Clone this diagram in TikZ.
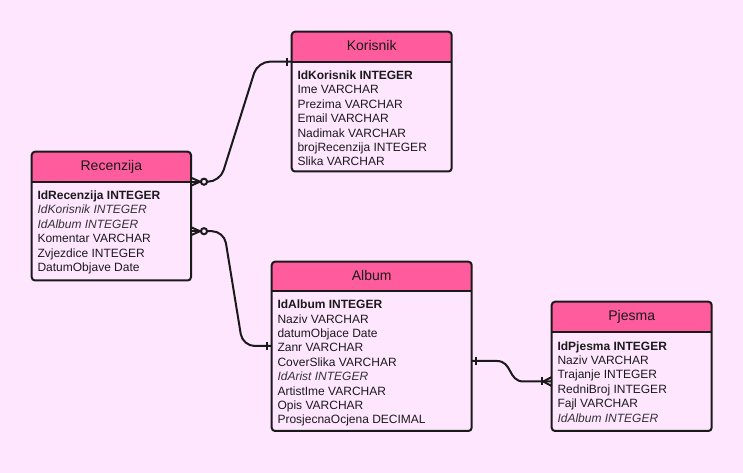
\documentclass[tikz,border=0pt]{standalone}
\usepackage{fontspec}
\setmainfont{Liberation Sans}
\usetikzlibrary{calc}
\definecolor{bgpink}{HTML}{FFE6FF}
\definecolor{hdrpink}{HTML}{FF5C9E}
\definecolor{ink}{HTML}{1A1A1A}
\definecolor{fkgray}{HTML}{333333}
\tikzset{
  tblborder/.style={draw=ink, line width=1.5pt, rounded corners=2.5pt},
  titletext/.style={anchor=base, inner sep=0pt, text=ink, font=\fontsize{10.5}{12}\selectfont},
  rowtext/.style={anchor=north west, inner sep=0pt, align=left, text=ink, font=\fontsize{9}{10.8}\selectfont},
  conn/.style={draw=ink, line width=1.5pt},
}
\newcommand\fkrow[1]{{\color{fkgray}\itshape #1}}
\newcommand\ertable[8]{%
  \coordinate (#1-nw) at (#2,#3);
  \coordinate (#1-se) at (#4,#5);
  \coordinate (#1-hw) at (#2,#6);
  \coordinate (#1-he) at (#4,#6);
  \fill[hdrpink] (#1-hw) {[rounded corners=2.5pt] -- (#2,#3) -- (#4,#3)} -- (#1-he) -- cycle;
  \draw[ink, line width=1.5pt] (#1-hw) -- (#1-he);
  \draw[tblborder] (#1-nw) rectangle (#1-se);
  \node[titletext] (#1-title) at ({(#2+#4)/2},{#3+19}) {#7};
  \node[rowtext] (#1-rows) at ({#2+5.6},{#6+8.8}) {#8};
}
\begin{document}
\begin{tikzpicture}[x=0.75pt,y=-0.75pt]
\fill[bgpink] (0,0) rectangle (743,473);
\useasboundingbox (0,0) rectangle (743,473);

\ertable{kor}{291.7}{31.7}{451.7}{171.5}{61.7}{Korisnik}{%
\textbf{IdKorisnik INTEGER}\\Ime VARCHAR\\Prezima VARCHAR\\Email VARCHAR\\Nadimak VARCHAR\\brojRecenzija INTEGER\\Slika VARCHAR}
\ertable{rec}{31.7}{151.7}{191}{280.5}{181.7}{Recenzija}{%
\textbf{IdRecenzija INTEGER}\\\fkrow{IdKorisnik INTEGER}\\\fkrow{IdAlbum INTEGER}\\Komentar VARCHAR\\Zvjezdice INTEGER\\DatumObjave Date}
\ertable{alb}{271.7}{261.7}{471.7}{431}{291}{Album}{%
\textbf{IdAlbum INTEGER}\\Naziv VARCHAR\\datumObjace Date\\Zanr VARCHAR\\CoverSlika VARCHAR\\\fkrow{IdArist INTEGER}\\ArtistIme VARCHAR\\Opis VARCHAR\\ProsjecnaOcjena DECIMAL}
\ertable{pje}{551.7}{301.7}{711.7}{431}{332.3}{Pjesma}{%
\textbf{IdPjesma INTEGER}\\Naziv VARCHAR\\Trajanje INTEGER\\RedniBroj INTEGER\\Fajl VARCHAR\\\fkrow{IdAlbum INTEGER}}

% Recenzija -> Korisnik (many-optional to one)
\coordinate (c1s) at (rec-he);
\draw[conn] ($(c1s)+(0,-4)$) -- ($(c1s)+(9,0)$) -- ($(c1s)+(0,4)$);
\draw[conn] (c1s) -- ($(c1s)+(10,0)$);
\draw[conn] ($(c1s)+(13,0)$) circle[radius=2.3pt];
\draw[conn, rounded corners=9pt] ($(c1s)+(16,0)$) -- ($(c1s)+(29,0)$) -- ($(kor-hw)+(-34,0)$) -- (kor-hw);
\draw[conn] ($(kor-hw)+(-5,-4)$) -- ($(kor-hw)+(-5,4)$);

% Recenzija -> Album (many-optional to one)
\coordinate (c2s) at ($(rec-he)+(0,49.5)$);
\coordinate (c2e) at ($(alb-hw)+(0,55)$);
\draw[conn] ($(c2s)+(0,-4)$) -- ($(c2s)+(9,0)$) -- ($(c2s)+(0,4)$);
\draw[conn] (c2s) -- ($(c2s)+(10,0)$);
\draw[conn] ($(c2s)+(13,0)$) circle[radius=2.3pt];
\draw[conn, rounded corners=9pt] ($(c2s)+(16,0)$) -- ($(c2s)+(33,0)$) -- ($(c2e)+(-29,0)$) -- (c2e);
\draw[conn] ($(c2e)+(-4.5,-4)$) -- ($(c2e)+(-4.5,4)$);

% Album -> Pjesma (one to many)
\coordinate (c3s) at ($(alb-he)+(0,70)$);
\coordinate (c3e) at ($(pje-hw)+(0,49.2)$);
\draw[conn] ($(c3s)+(4,-4)$) -- ($(c3s)+(4,4)$);
\draw[conn] (c3s) -- ($(c3s)+(25,0)$) .. controls ($(c3s)+(41,0)$) and ($(c3e)+(-44,0)$) .. ($(c3e)+(-28,0)$) -- (c3e);
\draw[conn] ($(c3e)+(0,-4.5)$) -- ($(c3e)+(-8.5,0)$) -- ($(c3e)+(0,4.5)$);
\draw[conn] ($(c3e)+(-9.5,-4)$) -- ($(c3e)+(-9.5,4)$);
\end{tikzpicture}
\end{document}
